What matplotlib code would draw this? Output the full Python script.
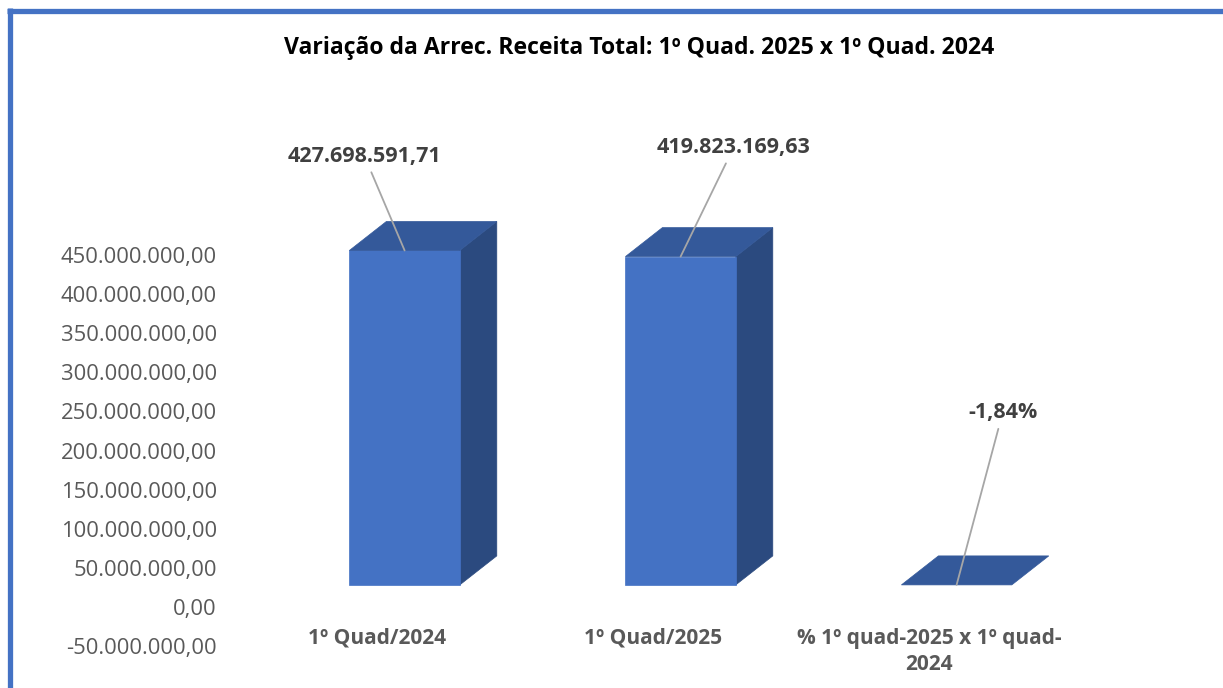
import numpy as np
import matplotlib
matplotlib.use("Agg")
import matplotlib.pyplot as plt
from matplotlib.patches import Polygon
from matplotlib.lines import Line2D
from matplotlib.transforms import IdentityTransform, offset_copy

plt.rcParams["font.family"] = ["Open Sans", "DejaVu Sans"]

categories = ["1º Quad/2024", "1º Quad/2025", "% 1º quad-2025 x 1º quad-\n2024"]
values = [427698591.71, 419823169.63, -0.0184]
value_labels = ["427.698.591,71", "419.823.169,63", "-1,84%"]
yticks = np.arange(-50e6, 450e6 + 1, 50e6)

title = "Variação da Arrec. Receita Total: 1º Quad. 2025 x 1º Quad. 2024"

FRONT = "#4472C4"
TOP = "#34599A"
SIDE = "#2B4A7F"
LEADER = "#A6A6A6"
TXT = "#404040"
TICK = "#595959"

W, H = 1223, 688
LIFT = 22          # front face sits above the value axis (Excel 3D)
DEPTH = (37, 29)   # pixel offset of the back face


def fmt_br(v):
    s = f"{v:,.2f}"
    return s.replace(",", "X").replace(".", ",").replace("X", ".")


fig = plt.figure(figsize=(W / 100, H / 100), dpi=100)
fig.patch.set_facecolor("white")

# plot area in pixels (from top-left)
left_px, right_px = 239, 1067
top_px, bot_px = 255, 646
ax = fig.add_axes([left_px / W, 1 - bot_px / H, (right_px - left_px) / W, (bot_px - top_px) / H])
ax.set_zorder(5)
ax.patch.set_visible(False)
ax.set_xlim(-0.5, 2.5)
ax.set_ylim(-50e6, 450e6)
ax.set_autoscale_on(False)
for s in ax.spines.values():
    s.set_visible(False)

ax.set_yticks(yticks)
ax.set_yticklabels([fmt_br(t) for t in yticks], color=TICK, fontsize=15.8)
ax.set_xticks(range(len(categories)))
ax.set_xticklabels(categories, color=TICK, fontsize=15, fontweight="bold",
                   linespacing=1.3)
ax.tick_params(axis="y", length=0, pad=16)
ax.tick_params(axis="x", length=0, pad=-13)

fig.canvas.draw()
ident = IdentityTransform()
dx, dy = DEPTH


def add_face(pts, color):
    fig.add_artist(Polygon(pts, closed=True, facecolor=color, edgecolor=color,
                           linewidth=0.5, transform=ident, zorder=3))


for i, v in enumerate(values):
    x0, y0 = ax.transData.transform((i - 0.1, 0))
    x1, y1 = ax.transData.transform((i + 0.3, max(v, 0)))
    y0 += LIFT
    y1 += LIFT
    # side face
    if y1 > y0 + 1:
        add_face([(x1, y0), (x1 + dx, y0 + dy), (x1 + dx, y1 + dy), (x1, y1)], SIDE)
        add_face([(x0, y0), (x1, y0), (x1, y1), (x0, y1)], FRONT)
    # top face
    add_face([(x0, y1), (x1, y1), (x1 + dx, y1 + dy), (x0 + dx, y1 + dy)], TOP)

lifted = offset_copy(ax.transData, fig=fig, x=0, y=LIFT, units="dots")
label_offsets = [(-40, 94), (53, 109), (46, 172)]
for i, (v, lab, off) in enumerate(zip(values, value_labels, label_offsets)):
    ax.annotate(lab, xy=(i + 0.1, max(v, 0)), xycoords=lifted,
                xytext=off, textcoords="offset pixels",
                ha="center", va="center", fontsize=15.5, fontweight="bold", color=TXT,
                annotation_clip=False, zorder=5,
                arrowprops=dict(arrowstyle="-", color=LEADER, lw=1.3,
                                shrinkA=2, shrinkB=0))

fig.text(639 / W, 1 - 48 / H, title, ha="center", va="center",
         fontsize=16.6, fontweight="bold", color="black")

# chart border (left and top edges visible)
fig.add_artist(Line2D([9.5 / W, 9.5 / W], [0, 1 - 8 / H], color="#4472C4",
                      lw=3.8, transform=fig.transFigure, solid_capstyle="butt"))
fig.add_artist(Line2D([7 / W, 1], [1 - 10.5 / H, 1 - 10.5 / H], color="#4472C4",
                      lw=3.8, transform=fig.transFigure, solid_capstyle="butt"))

fig.savefig("out.png", dpi=100, facecolor="white")
